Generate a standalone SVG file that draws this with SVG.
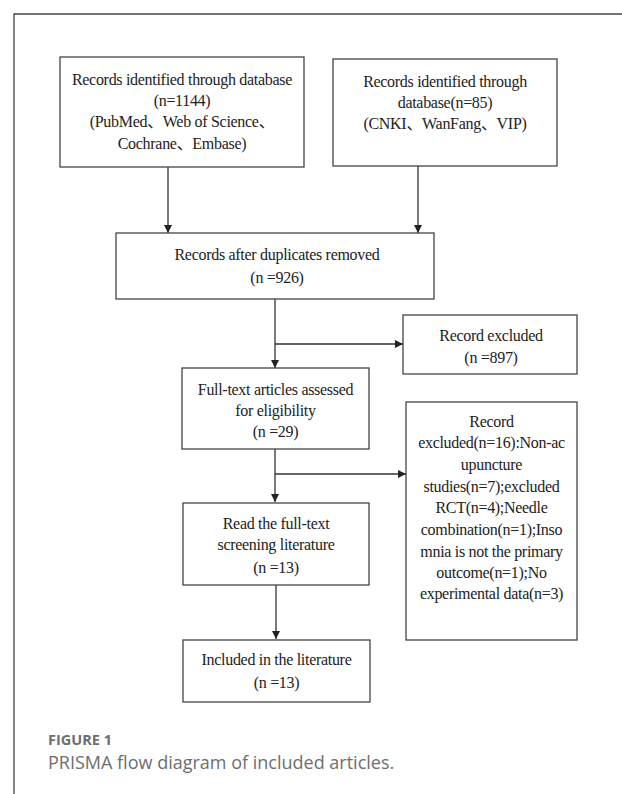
<svg xmlns="http://www.w3.org/2000/svg" width="622" height="794" viewBox="0 0 622 794">
<defs>
<style>
.box{fill:#fff;stroke:#444;stroke-width:1.3}
.t{font-family:"Liberation Serif","Noto Sans CJK SC",serif;font-size:16px;letter-spacing:-0.3px;fill:#222;text-anchor:middle}
.c{stroke:#333;stroke-width:1.3;fill:none}
.frame{stroke:#444;stroke-width:1.3;fill:none}
.cap1{font-family:"Open Sans","Noto Sans",sans-serif;font-size:14.5px;font-weight:700;fill:#6e6e6e}
.cap2{font-family:"Open Sans","Noto Sans",sans-serif;font-size:18px;fill:#6e6e6e}
</style>
<marker id="ah" viewBox="0 0 10 10" refX="10" refY="5" markerWidth="8" markerHeight="8" markerUnits="userSpaceOnUse" orient="auto">
<path d="M0,0 L10,5 L0,10 Z" fill="#222"/>
</marker>
</defs>
<rect width="622" height="794" fill="#fff"/>
<path class="frame" d="M14,794 V14 H622"/>

<g id="connectors">
<path class="c" d="M168,167 V233" marker-end="url(#ah)"/>
<path class="c" d="M418,166 V233" marker-end="url(#ah)"/>
<path class="c" d="M275,299 V368" marker-end="url(#ah)"/>
<path class="c" d="M275,344 H403" marker-end="url(#ah)"/>
<path class="c" d="M275,449 V502" marker-end="url(#ah)"/>
<path class="c" d="M275,474 H406" marker-end="url(#ah)"/>
<path class="c" d="M276,585 V639" marker-end="url(#ah)"/>
</g>

<g id="n1">
<rect class="box" x="60" y="57" width="244" height="110"/>
<text class="t" x="182" y="85">Records identified through database</text>
<text class="t" x="182" y="106">(n=1144)</text>
<text class="t" x="182" y="127">(PubMed、Web of Science、</text>
<text class="t" x="182" y="149">Cochrane、Embase)</text>
</g>

<g id="n2">
<rect class="box" x="333" y="59" width="224" height="107"/>
<text class="t" x="445" y="87">Records identified through</text>
<text class="t" x="445" y="108">database(n=85)</text>
<text class="t" x="445" y="129">(CNKI、WanFang、VIP)</text>
</g>

<g id="n3">
<rect class="box" x="116" y="233" width="318" height="66"/>
<text class="t" x="277" y="260">Records after duplicates removed</text>
<text class="t" x="277" y="283">(n =926)</text>
</g>

<g id="n4">
<rect class="box" x="403" y="315" width="174" height="59"/>
<text class="t" x="491" y="341">Record excluded</text>
<text class="t" x="491" y="363">(n =897)</text>
</g>

<g id="n5">
<rect class="box" x="182" y="368" width="187" height="81"/>
<text class="t" x="275.5" y="395">Full-text articles assessed</text>
<text class="t" x="275.5" y="416">for eligibility</text>
<text class="t" x="275.5" y="437">(n =29)</text>
</g>

<g id="n6">
<rect class="box" x="406" y="402" width="171" height="238"/>
<text class="t" x="491.5" y="427">Record</text>
<text class="t" x="491.5" y="448">excluded(n=16):Non-ac</text>
<text class="t" x="491.5" y="470">upuncture</text>
<text class="t" x="491.5" y="492">studies(n=7);excluded</text>
<text class="t" x="491.5" y="513">RCT(n=4);Needle</text>
<text class="t" x="491.5" y="535">combination(n=1);Inso</text>
<text class="t" x="491.5" y="557">mnia is not the primary</text>
<text class="t" x="491.5" y="578">outcome(n=1);No</text>
<text class="t" x="491.5" y="599">experimental data(n=3)</text>
</g>

<g id="n7">
<rect class="box" x="183" y="503" width="186" height="82"/>
<text class="t" x="276" y="529">Read the full-text</text>
<text class="t" x="276" y="550">screening literature</text>
<text class="t" x="276" y="573">(n =13)</text>
</g>

<g id="n8">
<rect class="box" x="183" y="640" width="187" height="62"/>
<text class="t" x="276.5" y="665">Included in the literature</text>
<text class="t" x="276.5" y="688">(n =13)</text>
</g>

<text class="cap1" x="48" y="745">FIGURE 1</text>
<text class="cap2" x="48" y="769">PRISMA flow diagram of included articles.</text>
</svg>
